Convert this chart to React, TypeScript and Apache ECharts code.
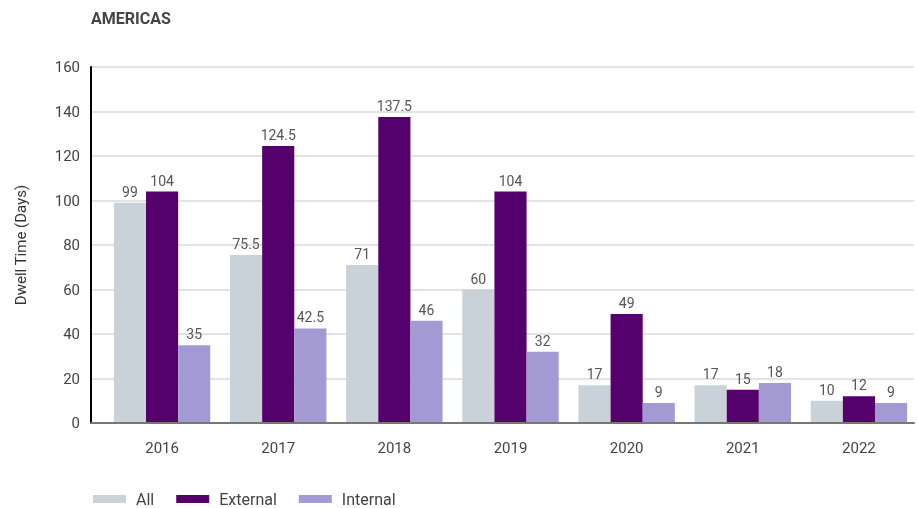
import React, { useEffect, useRef } from "react";
import * as echarts from "echarts";

const years = ["2016", "2017", "2018", "2019", "2020", "2021", "2022"];
const allValues = [99, 75.5, 71, 60, 17, 17, 10];
const externalValues = [104, 124.5, 137.5, 104, 49, 15, 12];
const internalValues = [35, 42.5, 46, 32, 9, 18, 9];
const seriesNames = ["All", "External", "Internal"];
const colors = ["#c9d1d9", "#56006e", "#a39ad3"];

const FONT = "Roboto, 'Noto Sans', sans-serif";

export default function App() {
  const ref = useRef<HTMLDivElement>(null);
  useEffect(() => {
    if (!ref.current) return;
    const chart = echarts.init(ref.current, undefined, { renderer: "svg" });
    const label = {
      show: true,
      position: "top",
      distance: 4,
      fontSize: 14,
      color: "#555",
      fontFamily: FONT,
    };
    const data = [allValues, externalValues, internalValues];
    chart.setOption({
      animation: false,
      textStyle: { fontFamily: FONT },
      title: {
        text: "AMERICAS",
        left: 91,
        top: 10,
        padding: 0,
        textStyle: { fontSize: 16, fontWeight: "bold", color: "#444", fontFamily: FONT },
      },
      legend: {
        data: seriesNames,
        left: 93,
        top: 491,
        padding: 0,
        icon: "rect",
        itemWidth: 33,
        itemHeight: 8,
        itemGap: 22,
        textStyle: { fontSize: 16, color: "#444", fontFamily: FONT, padding: [0, 0, 0, 5] },
      },
      grid: [
        { left: 91, right: 4, top: 67, bottom: 85 },
        { left: 104, right: 1, top: 67, bottom: 85 },
      ],
      xAxis: [
        {
          type: "category",
          gridIndex: 0,
          data: years,
          axisLine: { show: true, lineStyle: { color: "#777", width: 2 } },
          axisTick: { show: false },
          axisLabel: { show: false },
          splitLine: { show: false },
          z: 4,
        },
        {
          type: "category",
          gridIndex: 1,
          data: years,
          axisLine: { show: false },
          axisTick: { show: false },
          axisLabel: { fontSize: 15, color: "#444", margin: 17, fontFamily: FONT },
        },
      ],
      yAxis: [
        {
          type: "value",
          gridIndex: 0,
          min: 0,
          max: 160,
          interval: 20,
          name: "Dwell Time (Days)",
          nameLocation: "middle",
          nameGap: 63,
          nameTextStyle: { fontSize: 15, color: "#333", fontFamily: FONT },
          axisLine: { show: true, lineStyle: { color: "#000", width: 2 } },
          axisTick: { show: false },
          axisLabel: { fontSize: 15, color: "#444", margin: 11, fontFamily: FONT },
          splitLine: { show: true, lineStyle: { color: "#e3e3e3", width: 2 } },
          z: 0,
        },
        {
          type: "value",
          gridIndex: 1,
          min: 0,
          max: 160,
          interval: 20,
          axisLine: { show: false },
          axisTick: { show: false },
          axisLabel: { show: false },
          splitLine: { show: false },
        },
      ],
      series: seriesNames.map((name, i) => ({
        name,
        type: "bar",
        xAxisIndex: 1,
        yAxisIndex: 1,
        data: data[i],
        barGap: "0%",
        barCategoryGap: "17%",
        itemStyle: { color: colors[i] },
        label,
        z: 2,
      })),
    });
    return () => chart.dispose();
  }, []);
  return <div ref={ref} style={{ width: 918, height: 508, position: "fixed", left: 0, top: 0 }} />;
}
